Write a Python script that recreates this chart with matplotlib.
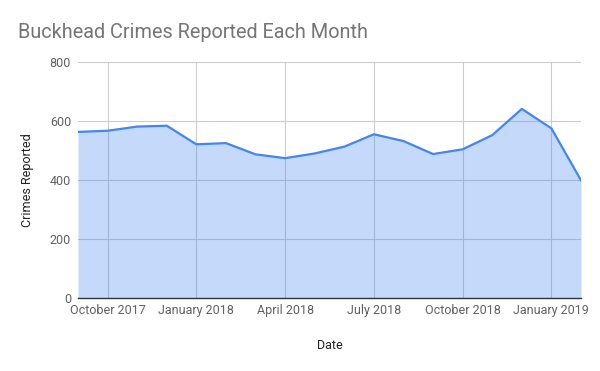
import matplotlib
matplotlib.use('Agg')
from matplotlib import pyplot as plt
import numpy as np

months = ['Sep 2017', 'Oct 2017', 'Nov 2017', 'Dec 2017', 'Jan 2018', 'Feb 2018',
          'Mar 2018', 'Apr 2018', 'May 2018', 'Jun 2018', 'Jul 2018', 'Aug 2018',
          'Sep 2018', 'Oct 2018', 'Nov 2018', 'Dec 2018', 'Jan 2019', 'Feb 2019']
crimes = [563, 567, 581, 584, 521, 525, 487, 474, 490, 513, 555, 532,
          488, 504, 552, 641, 575, 399]
tick_idx = [1, 4, 7, 10, 13, 16]
tick_labels = ['October 2017', 'January 2018', 'April 2018', 'July 2018',
               'October 2018', 'January 2019']
y_ticks = [0, 200, 400, 600, 800]

plt.rcParams['font.family'] = ['Roboto', 'DejaVu Sans']

fig = plt.figure(figsize=(6, 3.71), dpi=100)
ax = fig.add_axes([78 / 600, 1 - 298 / 371, 503 / 600, 236 / 371])

x = np.arange(len(months))
ax.fill_between(x, crimes, 0, color='#4285f4', alpha=0.3, linewidth=0, zorder=2)
ax.plot(x, crimes, color='#4285f4', linewidth=1.6, zorder=3)

ax.set_xlim(0, len(months) - 1)
ax.set_ylim(0, 800)
ax.set_xticks(tick_idx)
ax.set_xticklabels(tick_labels)
ax.set_yticks(y_ticks)

ax.grid(True, color='#cccccc', linewidth=0.8, zorder=1)
ax.set_axisbelow(True)
for s in ['top', 'right', 'left']:
    ax.spines[s].set_visible(False)
ax.spines['bottom'].set_color('#333333')
ax.spines['bottom'].set_linewidth(1.0)
ax.spines['bottom'].set_zorder(4)
ax.tick_params(length=0, labelsize=9, labelcolor='#616161', pad=4)
ax.tick_params(axis='y', pad=5)

ax.set_xlabel('Date', fontsize=9, color='#222222', labelpad=16)
ax.set_ylabel('Crimes Reported', fontsize=9, color='#222222', labelpad=11)

fig.text(18 / 600, 1 - 32 / 371, 'Buckhead Crimes Reported Each Month',
         fontsize=14.3, color='#757575', va='center', ha='left')

fig.savefig('out.png', dpi=100)
